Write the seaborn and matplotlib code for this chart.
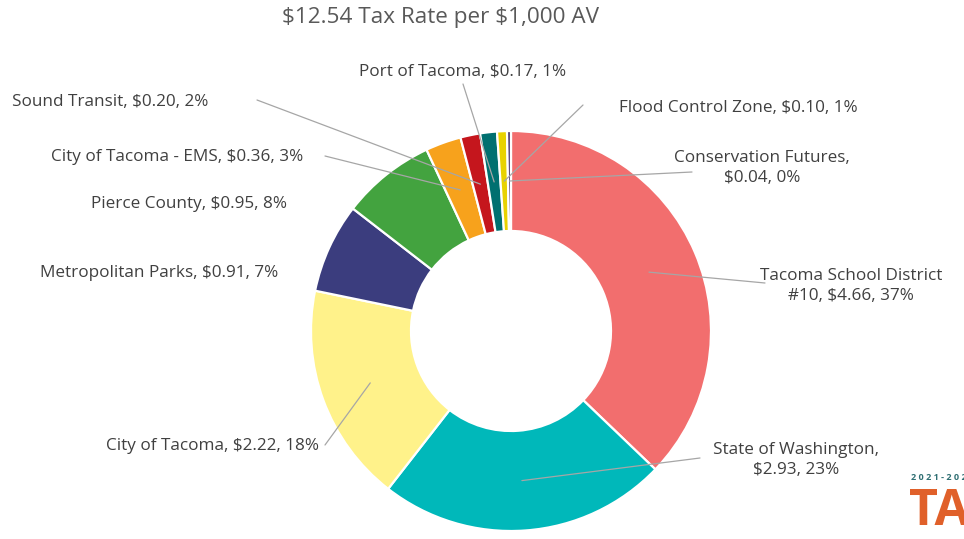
import numpy as np
import seaborn as sns
import matplotlib.pyplot as plt

# Data (clockwise from 12 o'clock)
names = ['Tacoma School District\n#10', 'State of Washington,\n', 'City of Tacoma',
         'Metropolitan Parks', 'Pierce County', 'City of Tacoma - EMS',
         'Sound Transit', 'Port of Tacoma', 'Flood Control Zone', 'Conservation Futures,\n']
rates = [4.66, 2.93, 2.22, 0.91, 0.95, 0.36, 0.20, 0.17, 0.10, 0.04]
pcts = [37, 23, 18, 7, 8, 3, 2, 1, 1, 0]
colors = ['#F26E6E', '#00B8BA', '#FFF28A', '#3B3D7E', '#43A33F', '#F7A21C',
          '#C5161D', '#007070', '#E8D200', '#4A3A6E']
title = '$12.54 Tax Rate per $1,000 AV'

sns.set_theme(style='white')
plt.rcParams['font.family'] = ['Open Sans', 'DejaVu Sans']
plt.rcParams['text.parse_math'] = False

W, H = 964, 539
fig = plt.figure(figsize=(W / 100, H / 100), dpi=100)
ax = fig.add_axes([0, 0, 1, 1])

def py(y):
    return H - y

cx, cy, R = 511, py(331), 200
wedges, _ = ax.pie(rates, colors=colors, startangle=90, counterclock=False,
                   radius=R, center=(cx, cy), frame=True,
                   wedgeprops=dict(width=R / 2, edgecolor='white', linewidth=1.6))
ax.set_xlim(0, W)
ax.set_ylim(0, H)
ax.axis('off')

txt = '#404040'
# label text positions (px), alignment, and leader line start (px) or None
layout = [
    ((851, 286), 'center', (765, 283)),
    ((796, 460), 'center', (700, 458)),
    ((319, 446), 'right', (325, 445)),
    ((278, 273), 'right', None),
    ((287, 204), 'right', None),
    ((303, 157), 'right', (325, 156)),
    ((208, 102), 'right', (257, 100)),
    ((463, 72), 'center', (463, 84)),
    ((619, 108), 'left', (583, 105)),
    ((762, 168), 'center', (692, 172)),
]

for w, name, r, p, (pos, ha, start) in zip(wedges, names, rates, pcts, layout):
    if name.endswith('\n'):
        label = f'{name}${r:.2f}, {p}%'
    else:
        label = f'{name}, ${r:.2f}, {p}%'
    ax.text(pos[0], py(pos[1]), label, ha=ha, va='center', fontsize=12.3,
            color=txt, linespacing=1.3)
    if start is not None:
        ang = np.deg2rad((w.theta1 + w.theta2) / 2)
        ex = cx + 0.75 * R * np.cos(ang)
        ey = cy + 0.75 * R * np.sin(ang)
        ax.plot([start[0], ex], [py(start[1]), ey], color='#A6A6A6', lw=0.9, zorder=5)

fig.text(440 / W, 1 - 18 / H, title, ha='center', va='center',
         fontsize=16.2, color='#595959')

# corner logo (cut off at the edge, as in the source)
fig.text(911 / W, 1 - 478 / H, '2 0 2 1 - 2 0 2 2', fontsize=6.5, color='#2F6F73',
         fontweight='bold', va='center', ha='left')
fig.text(909 / W, 1 - 512 / H, 'TAX', fontsize=36, color='#E0602A',
         fontweight='bold', va='center', ha='left')

fig.savefig('out.png', dpi=100)
